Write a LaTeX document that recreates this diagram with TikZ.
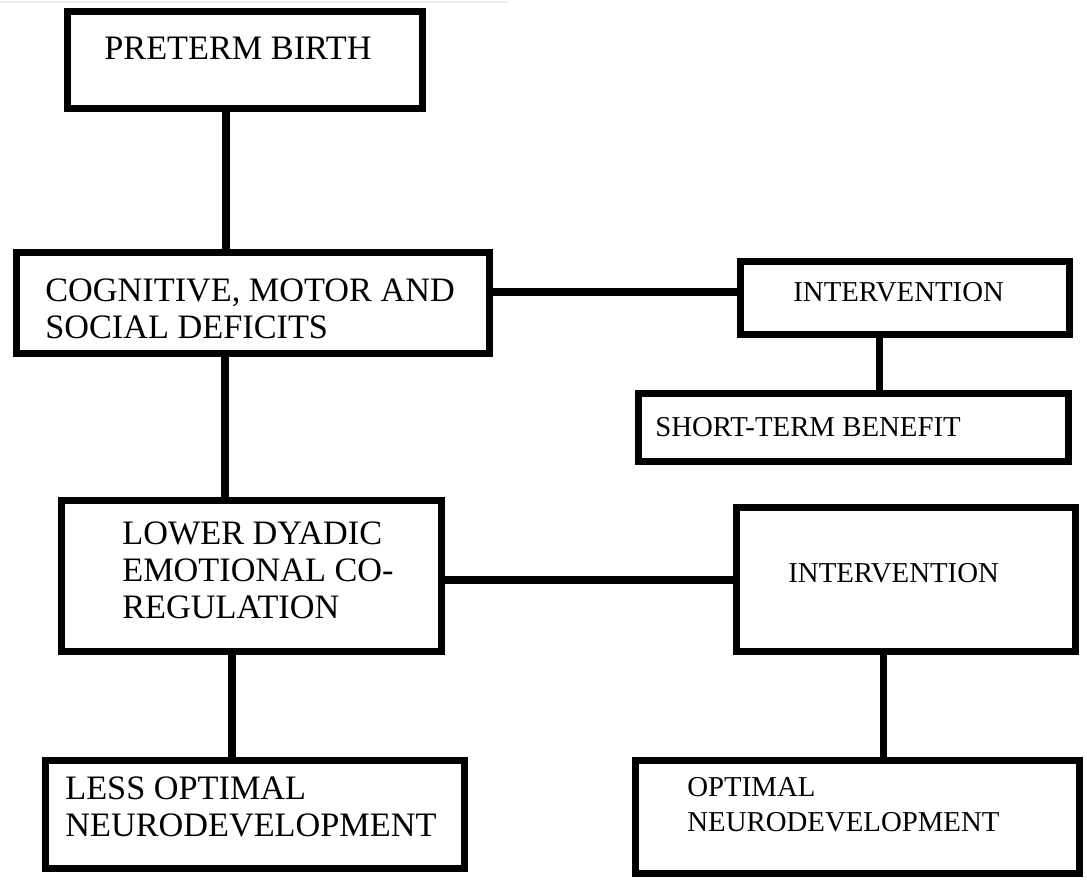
\documentclass[tikz,border=0pt]{standalone}
\usepackage{fontspec}
\setmainfont{Liberation Serif}
\usetikzlibrary{positioning}
\newlength\unitpx
\setlength\unitpx{0.02cm}

\begin{document}
\begin{tikzpicture}[x=0.02cm, y=-0.02cm,
  box/.style={rectangle, draw, line width=4pt, inner sep=0pt},
  big/.style={inner sep=0pt, align=left, anchor=west, font=\fontsize{19.5}{21}\selectfont},
  small/.style={inner sep=0pt, align=left, anchor=west, font=\fontsize{16.4}{19.8}\selectfont},
  link/.style={line width=4pt}]
\useasboundingbox (0,0) rectangle (1087,888);
\draw[black!7, line width=1.5pt] (0,2) -- (508,2);

% boxes
\node[box, minimum width=355\unitpx, minimum height=97\unitpx] (preterm) at (245,60) {};
\node[box, minimum width=473\unitpx, minimum height=101\unitpx] (deficits) at (253,303) {};
\node[box, minimum width=329\unitpx, minimum height=73\unitpx] (interA) at (905,298) {};
\node[box, minimum width=430\unitpx, minimum height=68\unitpx] (benefit) at (853.5,427.5) {};
\node[box, minimum width=380\unitpx, minimum height=151\unitpx] (coreg) at (251.5,576) {};
\node[box, minimum width=339\unitpx, minimum height=144\unitpx] (interB) at (906,579.5) {};
\node[box, minimum width=419\unitpx, minimum height=108\unitpx] (lessopt) at (255,814.5) {};
\node[box, minimum width=444\unitpx, minimum height=113\unitpx] (optimal) at (857.5,817) {};

% texts
\node[big] (pretermtxt) at (104,48) {PRETERM BIRTH};
\node[big] (deficitstxt) at (45,309) {COGNITIVE, MOTOR AND\\SOCIAL DEFICITS};
\node[small] (interAtxt) at (793,292) {INTERVENTION};
\node[small] (benefittxt) at (655,427) {SHORT-TERM BENEFIT};
\node[big] (coregtxt) at (122,570.5) {LOWER DYADIC\\EMOTIONAL CO-\\REGULATION};
\node[small] (interBtxt) at (788,573) {INTERVENTION};
\node[big] (lessopttxt) at (65,807) {LESS OPTIMAL\\NEURODEVELOPMENT};
\node[small] (optimaltxt) at (687,804.5) {OPTIMAL\\NEURODEVELOPMENT};

% links
\draw[link] ([xshift=-19\unitpx]preterm.south) -- ([xshift=-19\unitpx]preterm.south |- deficits.north);
\draw[link] ([xshift=-28\unitpx]deficits.south) -- ([xshift=-28\unitpx]deficits.south |- coreg.north);
\draw[link] ([xshift=-19.5\unitpx]coreg.south) -- ([xshift=-19.5\unitpx]coreg.south |- lessopt.north);
\draw[link] ([yshift=11\unitpx]deficits.east) -- ([yshift=11\unitpx]deficits.east -| interA.west);
\draw[link] ([xshift=-26\unitpx]interA.south) -- ([xshift=-26\unitpx]interA.south |- benefit.north);
\draw[link] ([yshift=-4\unitpx]coreg.east) -- ([yshift=-4\unitpx]coreg.east -| interB.west);
\draw[link] ([xshift=-23\unitpx]interB.south) -- ([xshift=-23\unitpx]interB.south |- optimal.north);
\end{tikzpicture}
\end{document}
